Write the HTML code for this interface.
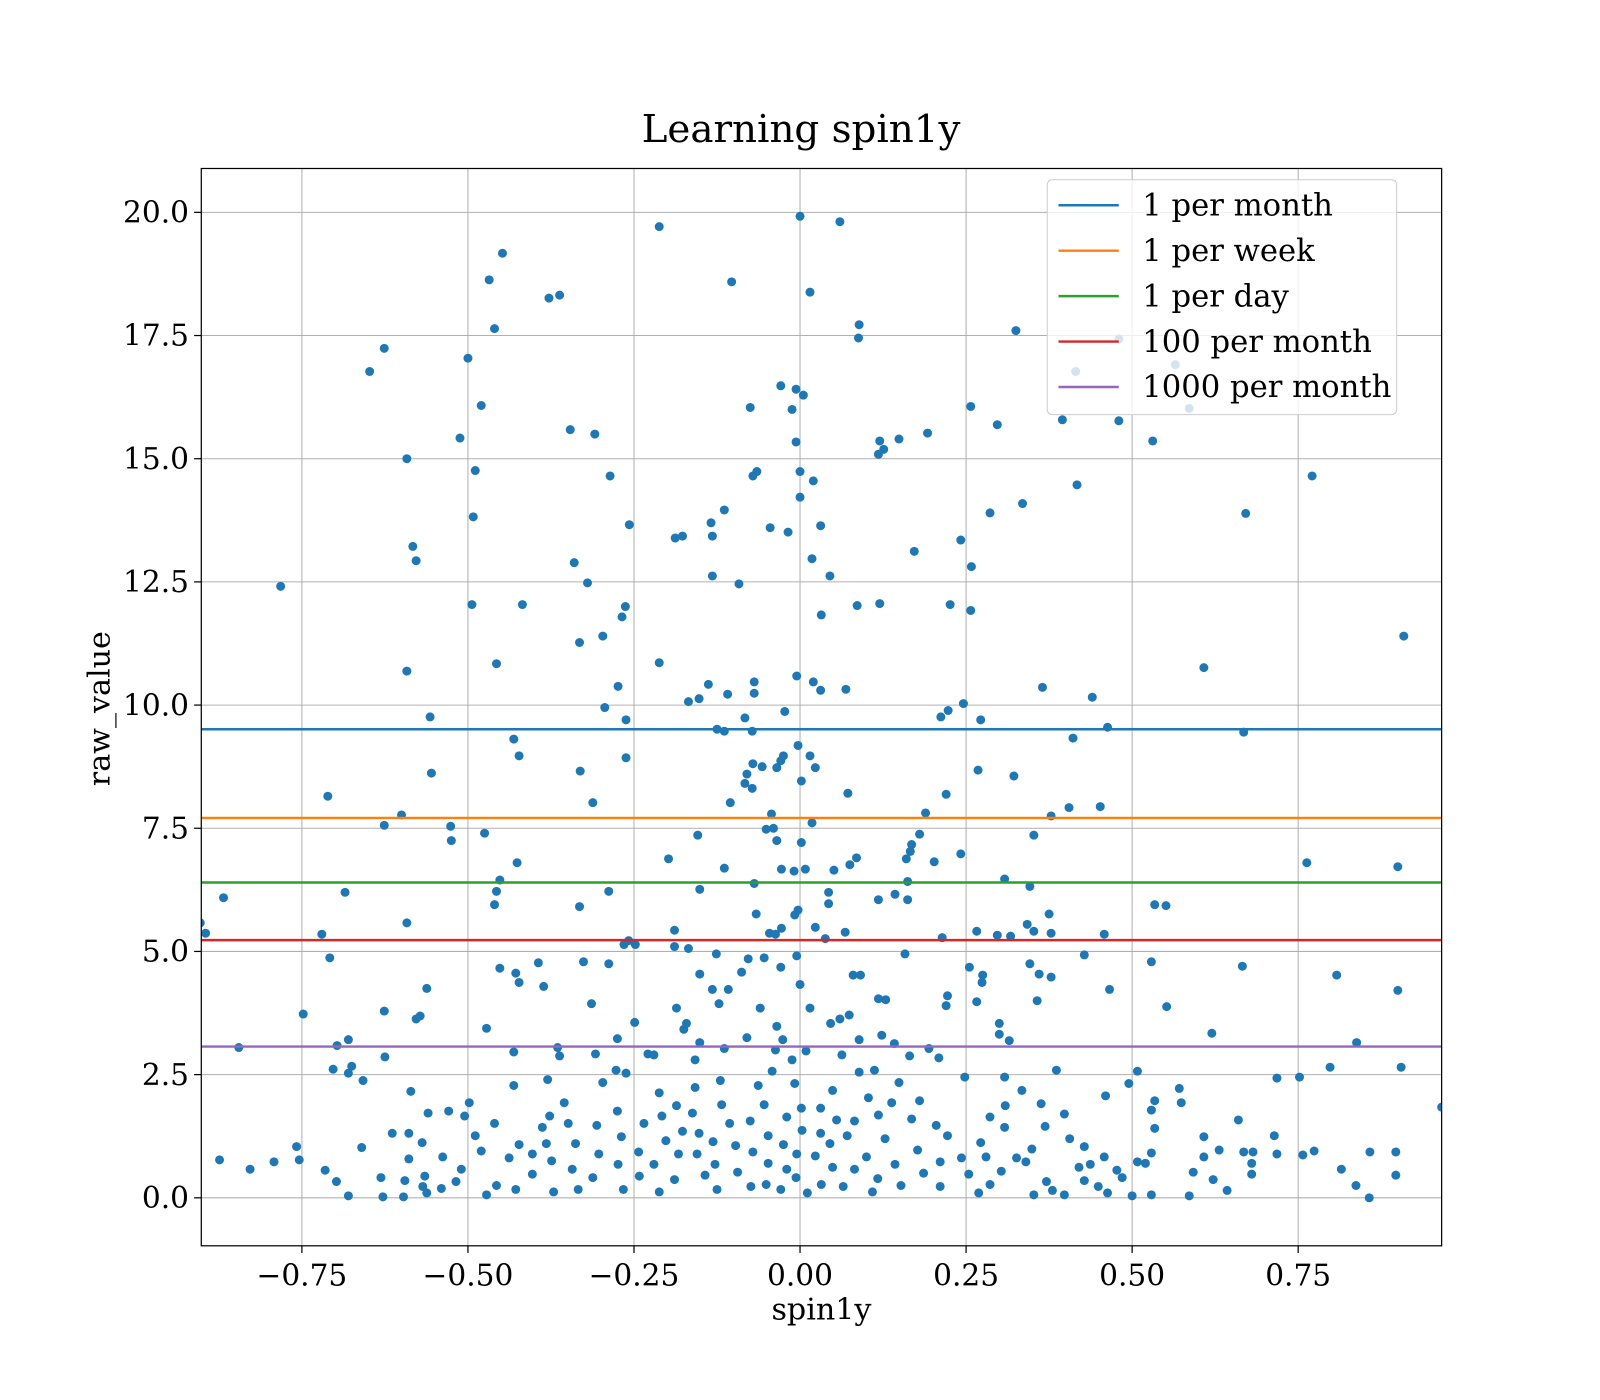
<!DOCTYPE html>
<html><head><meta charset="utf-8"><style>
html,body{margin:0;padding:0;background:#fff}
svg{display:block;font-family:"DejaVu Serif","Liberation Serif",serif}
</style></head><body>
<svg id="chart" width="1600" height="1400" viewBox="0 0 1566 1371" preserveAspectRatio="none" xmlns="http://www.w3.org/2000/svg">
<rect x="0" y="0" width="1566" height="1371" fill="#fff"/>
<text x="784" y="139" font-size="38" text-anchor="middle">Learning spin1y</text>
<text x="804" y="1292" font-size="29.5" text-anchor="middle">spin1y</text>
<text transform="translate(107,694) rotate(-90)" font-size="29.5" text-anchor="middle">raw_value</text>
<defs><clipPath id="plotclip"><rect x="197" y="165" width="1214" height="1055"/></clipPath></defs>
<g id="grid"></g>
<g id="points" clip-path="url(#plotclip)"></g>
<g id="hlines" clip-path="url(#plotclip)"></g>
<rect x="197" y="165" width="1214" height="1055" fill="none" stroke="#000" stroke-width="1.2"/>
<g id="ticks"></g>
<g id="legend"></g>
</svg>
<script>
const xTicks=[-0.75,-0.5,-0.25,0,0.25,0.5,0.75];
const xTickLabels=["\u22120.75","\u22120.50","\u22120.25","0.00","0.25","0.50","0.75"];
const yTicks=[0,2.5,5,7.5,10,12.5,15,17.5,20];
const yTickLabels=["0.0","2.5","5.0","7.5","10.0","12.5","15.0","17.5","20.0"];
const lineLabels=["1 per month","1 per week","1 per day","100 per month","1000 per month"];
const lineValues=[9.51,7.71,6.40,5.23,3.07];
const lineColors=["#1f77b4","#ff7f0e","#2ca02c","#d62728","#9467bd"];
const pts=[
[-0.212,19.71],[0,19.92],[0.06,19.81],[-0.448,19.17],[-0.468,18.63],[-0.103,18.59],[0.015,18.38],[-0.378,18.26],[-0.362,18.32],[-0.46,17.64],[0.089,17.72],[0.088,17.45],[-0.626,17.24],[-0.648,16.77],[0.325,17.6],[0.48,17.43],[-0.5,17.04],[0.565,16.91],[0.415,16.77],[-0.029,16.48],[-0.006,16.41],[0.005,16.29],[-0.48,16.08],[-0.075,16.04],[-0.012,16.0],[0.257,16.06],[0.586,16.02],[0.395,15.79],[0.48,15.77],[0.297,15.69],[-0.346,15.59],[0.192,15.52],[-0.309,15.5],[-0.512,15.42],[0.149,15.4],[0.531,15.36],[0.12,15.36],[-0.006,15.34],[0.126,15.19],[0.118,15.09],[-0.592,15.0],[-0.489,14.76],[-0.065,14.74],[-0.071,14.65],[-0.286,14.65],[0,14.74],[0.02,14.55],[0.417,14.47],[0.771,14.65],[-0.114,13.96],[0,14.22],[0.335,14.09],[0.286,13.9],[0.671,13.89],[-0.492,13.82],[-0.134,13.7],[-0.257,13.66],[0.031,13.64],[-0.045,13.6],[-0.018,13.51],[-0.132,13.43],[-0.177,13.43],[-0.188,13.39],[0.242,13.35],[-0.583,13.22],[0.172,13.12],[-0.578,12.93],[-0.34,12.89],[0.258,12.81],[0.018,12.97],[-0.132,12.62],[0.045,12.62],[-0.32,12.48],[-0.092,12.46],[-0.782,12.41],[-0.263,12.0],[-0.494,12.04],[-0.418,12.04],[0.086,12.02],[0.12,12.06],[0.226,12.04],[0.257,11.92],[-0.268,11.79],[0.032,11.83],[-0.332,11.27],[-0.297,11.4],[0.909,11.4],[-0.592,10.69],[-0.457,10.84],[-0.212,10.86],[0.608,10.76],[-0.005,10.59],[-0.069,10.47],[0.02,10.47],[-0.138,10.42],[-0.274,10.38],[0.365,10.36],[0.069,10.32],[0.031,10.3],[-0.152,10.13],[-0.168,10.07],[0.44,10.16],[-0.109,10.22],[-0.069,10.24],[0.246,10.03],[-0.294,9.95],[-0.023,9.87],[0.223,9.89],[0.212,9.76],[0.272,9.7],[-0.557,9.76],[-0.262,9.7],[-0.083,9.74],[0.463,9.55],[-0.125,9.51],[-0.114,9.47],[-0.072,9.47],[0.668,9.45],[-0.431,9.31],[0.411,9.33],[-0.003,9.18],[0.015,8.97],[-0.423,8.97],[-0.025,8.97],[-0.029,8.87],[-0.262,8.93],[-0.071,8.81],[0.023,8.73],[-0.057,8.75],[-0.035,8.73],[-0.08,8.6],[-0.331,8.66],[-0.555,8.62],[0.268,8.68],[0.322,8.56],[-0.083,8.41],[-0.072,8.31],[0.002,8.46],[-0.711,8.15],[0.072,8.21],[0.22,8.19],[-0.105,8.02],[-0.312,8.02],[0.405,7.92],[0.452,7.94],[0.189,7.81],[-0.043,7.79],[-0.6,7.77],[0.378,7.75],[0.018,7.61],[-0.626,7.56],[-0.526,7.54],[-0.04,7.5],[-0.051,7.48],[0.18,7.38],[0.352,7.36],[-0.154,7.36],[-0.475,7.4],[-0.525,7.25],[-0.035,7.25],[0.168,7.17],[0.002,7.21],[0.166,7.03],[0.242,6.98],[0.16,6.88],[0.085,6.9],[-0.198,6.88],[0.075,6.76],[0.202,6.82],[0.763,6.8],[0.9,6.72],[-0.426,6.8],[-0.114,6.69],[0.008,6.67],[0.051,6.65],[-0.028,6.67],[-0.009,6.63],[-0.685,6.2],[-0.288,6.22],[-0.868,6.09],[-0.457,6.22],[0.143,6.16],[0.043,6.2],[-0.151,6.26],[-0.069,6.38],[0.346,6.32],[-0.452,6.45],[0.162,6.42],[0.308,6.47],[0.118,6.05],[0.162,6.05],[0.043,5.97],[-0.46,5.95],[-0.332,5.91],[0.534,5.95],[0.551,5.93],[-0.003,5.84],[-0.066,5.76],[0.375,5.76],[-0.008,5.74],[-0.903,5.58],[-0.592,5.58],[-0.895,5.37],[0.023,5.49],[0.342,5.55],[-0.028,5.47],[0.068,5.39],[0.266,5.41],[0.378,5.37],[0.458,5.35],[0.297,5.33],[-0.046,5.37],[-0.72,5.35],[-0.037,5.35],[0.317,5.31],[0.352,5.41],[-0.189,5.43],[0.214,5.28],[-0.258,5.22],[0.038,5.26],[-0.265,5.14],[-0.248,5.14],[-0.189,5.1],[-0.168,5.06],[0.158,4.95],[-0.126,4.95],[0.428,4.93],[-0.005,4.91],[-0.708,4.87],[-0.078,4.85],[-0.054,4.87],[0.529,4.79],[-0.326,4.79],[-0.394,4.77],[-0.288,4.75],[0.346,4.75],[0.666,4.7],[0.255,4.68],[-0.029,4.68],[-0.452,4.66],[-0.088,4.58],[0.36,4.54],[0.378,4.48],[0.808,4.52],[-0.428,4.56],[0.08,4.52],[0.091,4.52],[-0.151,4.54],[0.275,4.52],[-0.423,4.37],[0.274,4.37],[0,4.33],[-0.386,4.29],[-0.562,4.25],[0.466,4.23],[0.9,4.21],[-0.108,4.23],[-0.132,4.23],[0.222,4.1],[0.266,3.98],[0.357,4.0],[0.118,4.04],[0.129,4.02],[0.22,3.9],[-0.122,3.94],[-0.314,3.94],[-0.06,3.85],[0.015,3.85],[0.552,3.88],[-0.186,3.85],[-0.626,3.79],[-0.748,3.73],[-0.572,3.69],[-0.578,3.63],[0.074,3.71],[0.06,3.63],[0.046,3.54],[0.3,3.54],[-0.171,3.54],[-0.249,3.56],[-0.035,3.48],[-0.175,3.42],[-0.472,3.44],[0.62,3.34],[0.3,3.32],[0.123,3.3],[-0.08,3.25],[-0.026,3.21],[-0.275,3.23],[-0.68,3.21],[0.089,3.21],[0.315,3.19],[0.838,3.15],[-0.151,3.15],[0.142,3.13],[-0.697,3.09],[-0.845,3.05],[-0.365,3.05],[-0.114,3.03],[-0.037,3.0],[0.009,2.98],[0.194,3.03],[-0.431,2.96],[-0.229,2.92],[-0.22,2.9],[-0.308,2.92],[-0.362,2.88],[0.063,2.9],[0.165,2.88],[0.209,2.84],[-0.625,2.86],[-0.158,2.8],[-0.012,2.8],[0.386,2.59],[0.798,2.65],[0.905,2.65],[0.508,2.57],[-0.703,2.61],[-0.675,2.67],[-0.277,2.59],[-0.042,2.57],[0.112,2.59],[-0.68,2.53],[-0.262,2.53],[0.752,2.45],[0.248,2.45],[0.718,2.43],[-0.658,2.38],[0.308,2.45],[-0.431,2.28],[0.571,2.22],[0.495,2.32],
[-0.586,2.16],[0.966,1.84],[0.574,1.93],[0.46,2.07],[0.534,1.97],[0.529,1.78],[0.534,1.41],[0.66,1.58],[0.608,1.24],[0.714,1.26],[0.631,0.97],[0.608,0.83],[0.592,0.52],[0.586,0.04],[0.622,0.37],[0.643,0.15],[0.68,0.7],[0.718,0.89],[0.682,0.93],[0.757,0.87],[0.774,0.95],[0.815,0.58],[0.837,0.25],[0.857,0.0],[0.858,0.93],[0.897,0.93],[0.897,0.46],[0.68,0.48],[0.668,0.93],[0.477,0.56],[0.463,0.1],[0.5,0.04],[0.529,0.06],[0.529,0.91],[0.508,0.73],[0.52,0.7],[0.485,0.41],[0.42,0.62],[0.428,1.04],[0.437,0.68],[0.449,0.23],[0.458,0.83],[0.428,0.35],[0.371,0.33],[0.352,0.06],[0.398,0.06],[0.38,0.15],[0.34,0.73],[0.326,0.81],[0.349,0.99],[0.369,1.45],[0.406,1.2],[0.363,1.91],[0.334,2.18],[0.398,1.7],[0.309,1.87],[0.286,1.64],[0.308,1.43],[0.272,1.12],[0.28,0.83],[0.303,0.54],[0.286,0.27],[0.269,0.1],[0.254,0.48],[0.243,0.81],[0.222,1.26],[0.205,1.47],[0.211,0.73],[0.211,0.23],[0.186,0.5],[0.177,0.97],[0.168,1.6],[0.18,1.97],[0.149,2.34],[0.138,1.93],[0.128,1.2],[0.143,0.68],[0.152,0.25],[0.117,0.39],[0.109,0.12],[0.1,0.83],[0.118,1.68],[0.103,2.03],[0.089,2.55],[0.082,1.56],[0.071,1.26],[0.082,0.58],[0.065,0.23],[0.049,0.62],[0.045,1.1],[0.055,1.58],[0.049,2.18],[0.031,1.82],[0.031,1.31],[0.023,0.85],[0.032,0.27],[0.011,0.1],[-0.006,0.41],[-0.005,0.89],[0.003,1.37],[0.002,1.82],[-0.008,2.32],[-0.02,1.64],[-0.025,1.08],[-0.02,0.58],[-0.029,0.17],[-0.051,0.27],[-0.048,0.7],[-0.048,1.26],[-0.054,1.89],[-0.063,2.28],[-0.075,1.56],[-0.071,0.93],[-0.074,0.23],[-0.094,0.52],[-0.097,1.06],[-0.106,1.51],[-0.118,1.89],[-0.12,2.38],[-0.131,1.14],[-0.128,0.68],[-0.125,0.17],[-0.143,0.46],[-0.155,0.89],[-0.152,1.31],[-0.162,1.72],[-0.158,2.24],[-0.186,1.87],[-0.177,1.35],[-0.183,0.89],[-0.189,0.37],[-0.212,0.12],[-0.22,0.68],[-0.202,1.16],[-0.208,1.66],[-0.212,2.13],[-0.235,1.51],[-0.243,0.93],[-0.242,0.44],[-0.266,0.17],[-0.274,0.68],[-0.269,1.24],[-0.275,1.76],[-0.297,2.34],[-0.306,1.47],[-0.303,0.89],[-0.312,0.41],[-0.334,0.17],[-0.343,0.58],[-0.338,1.1],[-0.349,1.51],[-0.355,1.93],[-0.38,2.4],[-0.377,1.66],[-0.382,1.1],[-0.374,0.75],[-0.371,0.12],[-0.403,0.48],[-0.403,0.89],[-0.388,1.43],[-0.423,1.08],[-0.438,0.81],[-0.428,0.17],[-0.457,0.25],[-0.472,0.06],[-0.48,0.95],[-0.46,1.51],[-0.489,1.26],[-0.505,1.66],[-0.529,1.76],[-0.51,0.58],[-0.518,0.33],[-0.54,0.19],[-0.565,0.44],[-0.568,0.23],[-0.538,0.83],[-0.569,1.12],[-0.589,1.31],[-0.614,1.31],[-0.589,0.79],[-0.595,0.35],[-0.597,0.02],[-0.628,0.02],[-0.631,0.41],[-0.66,1.02],[-0.68,0.04],[-0.698,0.33],[-0.715,0.56],[-0.754,0.77],[-0.758,1.04],[-0.792,0.73],[-0.828,0.58],[-0.874,0.77],[-0.56,1.72],[-0.498,1.93],[-0.562,0.1]
];
const NS="http://www.w3.org/2000/svg";
const L=197,R=1411,T=165,B=1220,XMIN=-0.9015,XMAX=0.966,YMIN=-0.974,YMAX=20.89;
function sx(v){return L+(v-XMIN)/(XMAX-XMIN)*(R-L);}
function sy(v){return B-(v-YMIN)/(YMAX-YMIN)*(B-T);}
function mk(tag,attrs,parent){const e=document.createElementNS(NS,tag);for(const k in attrs)e.setAttribute(k,attrs[k]);parent.appendChild(e);return e;}
const grid=document.getElementById('grid'),ticks=document.getElementById('ticks');
xTicks.forEach((v,i)=>{const x=sx(v);
 const g=mk('line',{x1:x,x2:x,y1:T,y2:B,stroke:'#b0b0b0','stroke-width':1},grid);
 
 
 const t=mk('line',{x1:x,x2:x,y1:B,y2:B+7,stroke:'#000','stroke-width':1.2},ticks);
 
 
 const lb=mk('text',{x:x,y:B+39,'font-size':29,'text-anchor':'middle'},ticks);lb.textContent=xTickLabels[i];
 
 
});
yTicks.forEach((v,i)=>{const y=sy(v);
 const g=mk('line',{x1:L,x2:R,y1:y,y2:y,stroke:'#b0b0b0','stroke-width':1},grid);
 
 
 const t=mk('line',{x1:L-7,x2:L,y1:y,y2:y,stroke:'#000','stroke-width':1.2},ticks);
 
 
 const lb=mk('text',{x:L-12,y:y+10,'font-size':29,'text-anchor':'end'},ticks);lb.textContent=yTickLabels[i];
 
 
});
const pg=document.getElementById('points');
pts.forEach(p=>{const c=mk('circle',{cx:sx(p[0]),cy:sy(p[1]),r:4.4,fill:'#1f77b4'},pg);
 
 
});
const hl=document.getElementById('hlines');
lineValues.forEach((v,i)=>{const y=sy(v);
 const l=mk('line',{x1:L,x2:R,y1:y,y2:y,stroke:lineColors[i],'stroke-width':2.4},hl);
 
 
});
const lg=document.getElementById('legend');
const box=mk('rect',{x:1025,y:176,width:342,height:230,rx:5,fill:'#fff','fill-opacity':0.8,stroke:'#ccc','stroke-width':1},lg);


lineLabels.forEach((s,i)=>{const y=201+i*44.5;
 const l=mk('line',{x1:1036,x2:1095,y1:y,y2:y,stroke:lineColors[i],'stroke-width':2.4},lg);
 
 
 const t=mk('text',{x:1118,y:y+10,'font-size':30},lg);t.textContent=s;
 
 
});
</script>
</body></html>
